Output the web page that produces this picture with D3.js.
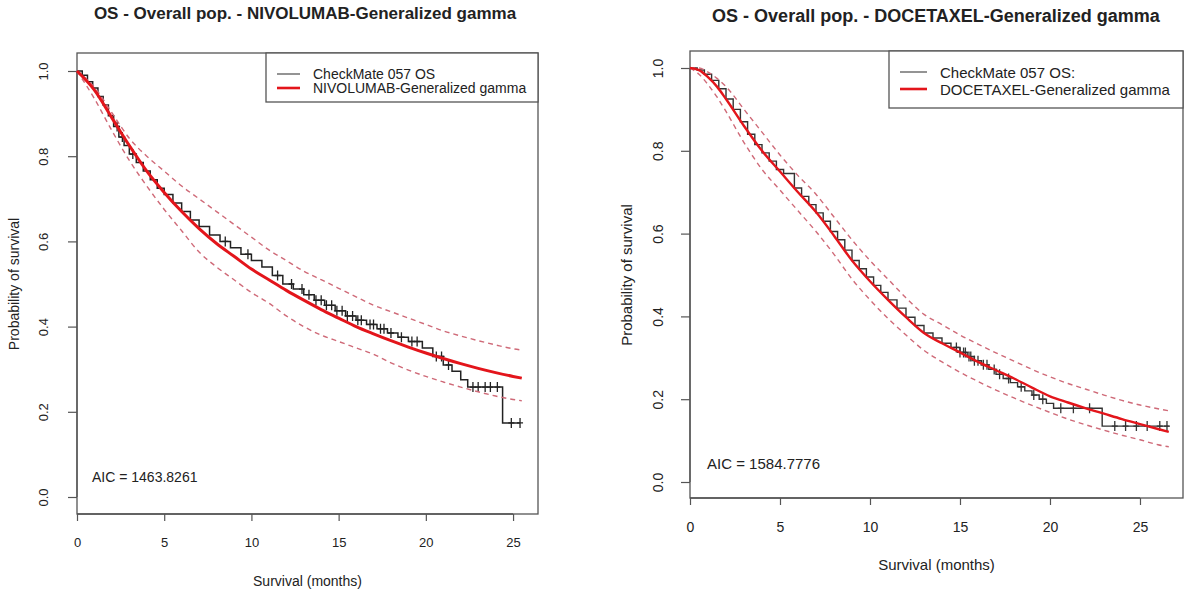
<!DOCTYPE html>
<html>
<head>
<meta charset="utf-8">
<script src="https://cdn.jsdelivr.net/npm/d3@7"></script>
<style>
  html, body { margin: 0; padding: 0; background: #fff; }
  svg { display: block; }
  text { font-family: "Liberation Sans", Arial, Helvetica, sans-serif; fill: #222; }
</style>
</head>
<body>
<svg id="chart" width="1184" height="592"></svg>
<script>
// ---- Shared axis ticks ----
const xTicks = [0, 5, 10, 15, 20, 25];
const yTicks = [0, 0.2, 0.4, 0.6, 0.8, 1.0];

// ---- Nivolumab: fitted generalized gamma curve with 95% CI ----
const nivoFitTime = [0, 1, 2, 3, 4, 5, 6, 7, 8, 9, 10, 11, 12, 13, 14, 15, 16, 17, 18, 19, 20, 21, 22, 23, 24, 25, 25.5];
const nivoFit   = [1.0, 0.955, 0.89, 0.825, 0.765, 0.715, 0.67, 0.63, 0.595, 0.565, 0.535, 0.51, 0.485, 0.462, 0.44, 0.42, 0.40, 0.383, 0.367, 0.352, 0.338, 0.325, 0.313, 0.302, 0.292, 0.283, 0.279];
const nivoUpper = [1.0, 0.962, 0.902, 0.842, 0.80, 0.765, 0.73, 0.70, 0.67, 0.64, 0.61, 0.58, 0.555, 0.53, 0.51, 0.49, 0.47, 0.45, 0.435, 0.42, 0.405, 0.39, 0.378, 0.367, 0.357, 0.348, 0.345];
const nivoLower = [1.0, 0.935, 0.86, 0.79, 0.73, 0.675, 0.625, 0.575, 0.54, 0.51, 0.48, 0.455, 0.425, 0.40, 0.38, 0.365, 0.35, 0.335, 0.315, 0.298, 0.283, 0.27, 0.258, 0.247, 0.237, 0.229, 0.226];

// ---- Nivolumab: Kaplan-Meier estimate (CheckMate 057) ----
const nivoKmTime = [0, 0.3, 0.6, 0.9, 1.2, 1.5, 1.8, 2.1, 2.4, 2.7, 3.0, 3.4, 3.8, 4.2, 4.6, 5.0, 5.5, 6.0, 6.5, 7.0, 7.6, 8.2, 8.8, 9.4, 10.0, 10.6, 11.2, 11.8, 12.4, 13.0, 13.6, 14.2, 14.8, 15.4, 16.0, 16.6, 17.2, 17.8, 18.4, 19.0, 19.8, 20.4, 21.0, 21.5, 22.0, 22.4, 24.4, 25.4];
const nivoKmSurv = [1.0, 0.99, 0.975, 0.96, 0.94, 0.92, 0.895, 0.87, 0.845, 0.825, 0.805, 0.785, 0.765, 0.745, 0.725, 0.71, 0.69, 0.67, 0.65, 0.635, 0.615, 0.60, 0.585, 0.57, 0.555, 0.54, 0.52, 0.50, 0.488, 0.475, 0.462, 0.45, 0.437, 0.425, 0.415, 0.405, 0.395, 0.385, 0.375, 0.365, 0.35, 0.33, 0.31, 0.295, 0.275, 0.258, 0.174, 0.174];
const nivoCensor = [2.3, 2.6, 3.2, 8.5, 9.8, 11.5, 12.3, 12.9, 13.3, 13.7, 14.0, 14.3, 14.6, 14.9, 15.2, 15.5, 15.8, 16.1, 16.3, 16.8, 17.0, 17.4, 17.6, 18.0, 18.6, 19.2, 19.5, 20.6, 20.9, 21.3, 22.7, 23.0, 23.4, 23.7, 24.1, 24.9, 25.4];

// ---- Docetaxel: fitted generalized gamma curve with 95% CI ----
const doceFitTime = [0, 0.5, 1, 1.5, 2, 3, 4, 5, 6, 7, 8, 9, 10, 11, 12, 13, 14, 15, 16, 17, 18, 19, 20, 21, 22, 23, 24, 25, 26, 26.6];
const doceFit   = [1.0, 0.995, 0.978, 0.955, 0.925, 0.86, 0.80, 0.75, 0.70, 0.652, 0.595, 0.535, 0.485, 0.44, 0.398, 0.36, 0.335, 0.313, 0.29, 0.27, 0.25, 0.228, 0.207, 0.192, 0.178, 0.165, 0.152, 0.14, 0.128, 0.121];
const doceUpper = [1.0, 1.0, 0.99, 0.975, 0.955, 0.90, 0.845, 0.79, 0.74, 0.695, 0.64, 0.585, 0.535, 0.49, 0.445, 0.405, 0.38, 0.355, 0.333, 0.312, 0.292, 0.272, 0.254, 0.238, 0.224, 0.21, 0.197, 0.186, 0.177, 0.172];
const doceLower = [1.0, 0.985, 0.96, 0.93, 0.895, 0.82, 0.755, 0.705, 0.655, 0.605, 0.55, 0.49, 0.44, 0.395, 0.355, 0.318, 0.29, 0.265, 0.243, 0.222, 0.203, 0.185, 0.168, 0.152, 0.138, 0.125, 0.113, 0.102, 0.09, 0.085];

// ---- Docetaxel: Kaplan-Meier estimate (CheckMate 057) ----
const doceKmTime = [0, 0.4, 0.8, 1.2, 1.6, 2.0, 2.4, 2.8, 3.2, 3.6, 4.0, 4.4, 4.8, 5.2, 5.8, 6.2, 6.6, 7.0, 7.4, 7.8, 8.2, 8.6, 9.0, 9.4, 9.8, 10.2, 10.6, 11.0, 11.5, 12.0, 12.5, 13.0, 13.5, 14.0, 14.5, 15.0, 15.4, 15.8, 16.2, 16.6, 17.0, 17.4, 17.8, 18.2, 18.6, 19.0, 19.4, 19.8, 20.2, 22.9, 26.6];
const doceKmSurv = [1.0, 0.995, 0.985, 0.97, 0.95, 0.925, 0.9, 0.87, 0.84, 0.815, 0.795, 0.775, 0.755, 0.745, 0.71, 0.69, 0.67, 0.65, 0.63, 0.605, 0.585, 0.56, 0.535, 0.515, 0.495, 0.475, 0.458, 0.44, 0.42, 0.398, 0.378, 0.36, 0.348, 0.335, 0.325, 0.313, 0.303, 0.293, 0.283, 0.272, 0.26, 0.25, 0.24, 0.23, 0.22, 0.21, 0.20, 0.19, 0.178, 0.135, 0.135];
const doceCensor = [14.8, 15.0, 15.2, 15.3, 15.5, 15.6, 15.8, 16.0, 16.3, 16.5, 16.9, 17.2, 17.7, 18.4, 19.1, 19.6, 20.6, 21.3, 22.2, 23.6, 24.2, 24.8, 25.4, 26.1, 26.5];

// ---- Text ----
const panelTitles = ["OS - Overall pop. - NIVOLUMAB-Generalized gamma", "OS - Overall pop. - DOCETAXEL-Generalized gamma"];
const kmLabels = ["CheckMate 057 OS", "CheckMate 057 OS:"];
const fitLabels = ["NIVOLUMAB-Generalized gamma", "DOCETAXEL-Generalized gamma"];
const aicLabels = ["AIC = 1463.8261", "AIC = 1584.7776"];
const xTitle = "Survival (months)";
const yTitle = "Probability of survival";

const svg = d3.select("#chart");
svg.append("rect").attr("width", 1184).attr("height", 592).attr("fill", "#fff");

const zip = (t, s) => t.map((v, i) => ({ t: v, s: s[i] }));

function stepValue(times, surv, t) {
  let v = surv[0];
  for (let i = 0; i < times.length; i++) { if (times[i] <= t) v = surv[i]; }
  return v;
}

function drawPanel(p, d) {
  const x = d3.scaleLinear().domain([0, p.xMax]).range([p.left, p.right]);
  const y = d3.scaleLinear().domain([0, 1]).range([p.y0, p.y1]);
  const g = svg.append("g");

  // title
  g.append("text").attr("x", p.titleX).attr("y", p.titleY)
    .attr("text-anchor", "middle").attr("font-weight", "bold")
    .attr("font-size", p.titleSize).text(d.title);

  // frame
  g.append("rect").attr("x", p.left).attr("y", p.top)
    .attr("width", p.right - p.left).attr("height", p.bottom - p.top)
    .attr("fill", "none").attr("stroke", "#555").attr("stroke-width", 1.3);

  // x axis
  const xa = g.append("g").attr("transform", `translate(0,${p.bottom})`)
    .call(d3.axisBottom(x).tickValues(xTicks).tickSize(7).tickPadding(p.xPad).tickFormat(d3.format("d")));
  xa.select(".domain").attr("stroke", "#555").attr("stroke-width", 1.3)
    .attr("d", `M${x(0)},0H${x(25)}`);
  xa.selectAll(".tick line").attr("stroke", "#555").attr("stroke-width", 1.2);
  xa.selectAll(".tick text").attr("font-size", p.tickSize).attr("fill", "#333")
    .attr("font-family", "'Liberation Sans', Arial, sans-serif");

  // y axis with labels parallel to the axis
  const ya = g.append("g").attr("transform", `translate(${p.left},0)`)
    .call(d3.axisLeft(y).tickValues(yTicks).tickSize(9).tickFormat(d3.format(".1f")));
  ya.select(".domain").attr("stroke", "#555").attr("stroke-width", 1.3)
    .attr("d", `M0,${y(0)}V${y(1)}`);
  ya.selectAll(".tick line").attr("stroke", "#555").attr("stroke-width", 1.2);
  ya.selectAll(".tick text").attr("font-size", p.tickSize).attr("fill", "#333")
    .attr("font-family", "'Liberation Sans', Arial, sans-serif")
    .attr("text-anchor", "middle").attr("dy", null).attr("x", null)
    .attr("dominant-baseline", "central")
    .attr("transform", `translate(${-p.yPad},0) rotate(-90)`);

  // axis titles
  g.append("text").attr("x", (p.left + p.right) / 2).attr("y", p.xTitleY)
    .attr("text-anchor", "middle").attr("font-size", p.labelSize).attr("fill", "#333").text(xTitle);
  g.append("text").attr("transform", `translate(${p.yTitleX},${(p.y0 + p.y1) / 2}) rotate(-90)`)
    .attr("text-anchor", "middle").attr("font-size", p.labelSize).attr("fill", "#333").text(yTitle);

  const line = d3.line().x(v => x(v.t)).y(v => y(v.s)).curve(d3.curveMonotoneX);
  const step = d3.line().x(v => x(v.t)).y(v => y(v.s)).curve(d3.curveStepAfter);

  // Kaplan-Meier step curve
  g.append("path").datum(zip(d.kmTime, d.kmSurv)).attr("d", step)
    .attr("fill", "none").attr("stroke", p.kmColor).attr("stroke-width", p.kmWidth);

  // censoring marks
  g.append("g").selectAll("path").data(d.censor).join("path")
    .attr("d", t => {
      const cx = x(t), cy = y(stepValue(d.kmTime, d.kmSurv, t));
      return `M${cx},${cy - 5}V${cy + 5}M${cx - 3},${cy}H${cx + 3}`;
    })
    .attr("stroke", p.kmColor).attr("stroke-width", 1.3);

  // confidence limits
  [d.upper, d.lower].forEach(arr => {
    g.append("path").datum(zip(d.fitTime, arr)).attr("d", line)
      .attr("fill", "none").attr("stroke", "#cf6a78").attr("stroke-width", 1.4)
      .attr("stroke-dasharray", "5,4");
  });

  // fitted curve
  g.append("path").datum(zip(d.fitTime, d.fit)).attr("d", line)
    .attr("fill", "none").attr("stroke", "#e3151b").attr("stroke-width", p.fitWidth);

  // AIC
  g.append("text").attr("x", p.aicX).attr("y", p.aicY).attr("dominant-baseline", "central")
    .attr("font-size", p.labelSize).attr("fill", "#333").text(d.aic);

  // legend
  const L = p.legend;
  g.append("rect").attr("x", L.x0).attr("y", p.top).attr("width", p.right - L.x0)
    .attr("height", L.y1 - p.top).attr("fill", "#fff").attr("stroke", "#555").attr("stroke-width", 1.3);
  const items = [
    { label: d.kmLabel, color: "#666", w: 1.4, yy: L.r1 },
    { label: d.fitLabel, color: "#e3151b", w: 2.6, yy: L.r2 }
  ];
  items.forEach(it => {
    g.append("line").attr("x1", L.lx0).attr("x2", L.lx1).attr("y1", it.yy).attr("y2", it.yy)
      .attr("stroke", it.color).attr("stroke-width", it.w);
    g.append("text").attr("x", L.tx).attr("y", it.yy).attr("dominant-baseline", "central")
      .attr("font-size", L.size).attr("fill", "#333").text(it.label);
  });
}

drawPanel(
  { left: 77, right: 538, top: 53, bottom: 514, xMax: 26.43, y0: 497, y1: 71,
    titleX: 305, titleY: 19, titleSize: 17, tickSize: 13, labelSize: 14,
    xPad: 17, yPad: 34, xTitleY: 586, yTitleX: 19,
    kmColor: "#222", kmWidth: 1.5, fitWidth: 3,
    aicX: 92, aicY: 477,
    legend: { x0: 266, y1: 102, r1: 74, r2: 88, lx0: 277, lx1: 300, tx: 313, size: 14 } },
  { title: panelTitles[0], fitTime: nivoFitTime, fit: nivoFit, upper: nivoUpper, lower: nivoLower,
    kmTime: nivoKmTime, kmSurv: nivoKmSurv, censor: nivoCensor,
    kmLabel: kmLabels[0], fitLabel: fitLabels[0], aic: aicLabels[0] }
);

drawPanel(
  { left: 690, right: 1183, top: 51, bottom: 498, xMax: 27.39, y0: 482, y1: 68,
    titleX: 936, titleY: 22, titleSize: 18, tickSize: 14, labelSize: 15,
    xPad: 17, yPad: 32, xTitleY: 570, yTitleX: 632,
    kmColor: "#333", kmWidth: 1.4, fitWidth: 2.4,
    aicX: 707, aicY: 463,
    legend: { x0: 889, y1: 108, r1: 72, r2: 89, lx0: 900, lx1: 927, tx: 940, size: 15 } },
  { title: panelTitles[1], fitTime: doceFitTime, fit: doceFit, upper: doceUpper, lower: doceLower,
    kmTime: doceKmTime, kmSurv: doceKmSurv, censor: doceCensor,
    kmLabel: kmLabels[1], fitLabel: fitLabels[1], aic: aicLabels[1] }
);
</script>
</body>
</html>
